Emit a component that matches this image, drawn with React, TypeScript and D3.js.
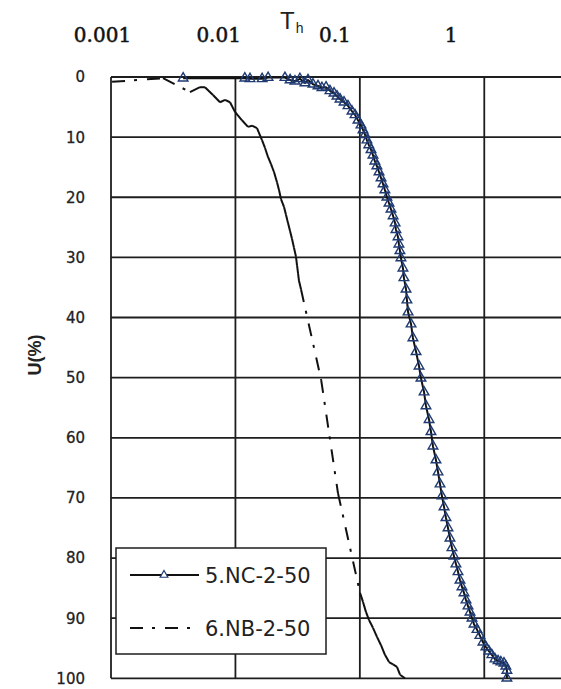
import React from "react";
import * as d3 from "d3";

// Th vs U(%) readings, [Th, U]
const nc2_50: [number, number][] = [
  [0.0038, 0.2], [0.0119, 0.2], [0.0131, 0.3], [0.0164, 0.3], [0.0183, 0.1], [0.025, 0.1],
  [0.0275, 0.5], [0.0301, 0.7], [0.033, 0.3], [0.0362, 1.0], [0.0383, 0.5], [0.042, 1.2],
  [0.0461, 1.5], [0.0496, 1.8], [0.0535, 1.7], [0.0575, 2.3], [0.062, 2.7], [0.0655, 3.2],
  [0.0693, 3.7], [0.0746, 4.2], [0.0803, 4.8], [0.0865, 5.7], [0.0914, 6.3], [0.0966, 7.2],
  [0.1021, 8.0], [0.106, 8.8], [0.11, 9.6], [0.114, 10.5], [0.118, 11.3], [0.123, 12.1],
  [0.1275, 13.0], [0.132, 14.0], [0.137, 14.8], [0.1425, 15.8], [0.148, 16.8], [0.1535, 17.8],
  [0.159, 18.8], [0.165, 20.0], [0.1715, 21.0], [0.178, 22.0], [0.185, 23.1], [0.192, 24.3],
  [0.195, 25.4], [0.2026, 26.6], [0.206, 27.8], [0.21, 28.9], [0.214, 30.1], [0.222, 31.8],
  [0.226, 33.4], [0.235, 35.3], [0.239, 37.1], [0.244, 39.1], [0.258, 41.1], [0.267, 43.4],
  [0.283, 45.7], [0.299, 48.1], [0.31, 50.1], [0.328, 52.4], [0.34, 54.7], [0.36, 57.0],
  [0.373, 59.0], [0.387, 61.4], [0.409, 63.7], [0.425, 65.7], [0.441, 67.7], [0.457, 69.7],
  [0.475, 71.5], [0.492, 73.3], [0.511, 75.0], [0.53, 76.7], [0.55, 78.3], [0.571, 79.7],
  [0.592, 81.0], [0.615, 82.3], [0.638, 83.7], [0.662, 84.8], [0.687, 85.8], [0.713, 87.0],
  [0.74, 88.0], [0.768, 89.0], [0.797, 90.0], [0.827, 91.0], [0.874, 91.9], [0.922, 92.9],
  [0.976, 94.0], [1.03, 94.8], [1.09, 95.5], [1.15, 96.1], [1.22, 96.8], [1.29, 97.1],
  [1.36, 97.3], [1.44, 97.5], [1.49, 98.0], [1.52, 98.7], [1.52, 100],
];

const nb2_50: [number, number][] = [
  [0.00102, 0.8], [0.00262, 0.2], [0.00431, 2.5], [0.00519, 1.7], [0.00569, 1.7], [0.0066, 3.0],
  [0.00752, 4.2], [0.00825, 3.8], [0.00905, 4.2], [0.00992, 5.8], [0.01129, 7.2], [0.01262, 8.3],
  [0.01359, 8.1], [0.01491, 8.5], [0.01635, 10.5], [0.01729, 11.8], [0.01827, 13.3], [0.01932, 14.5],
  [0.02042, 15.8], [0.02158, 17.5], [0.0224, 18.8], [0.02324, 20.3], [0.02457, 21.6], [0.02549, 22.9],
  [0.02646, 24.3], [0.02746, 25.6], [0.02849, 26.9], [0.02956, 28.4], [0.03068, 29.9], [0.03125, 31.3],
  [0.03184, 32.6], [0.03243, 33.9], [0.03365, 35.3], [0.0489, 50.4], [0.0667, 69.2], [0.1003, 85.8],
  [0.106, 87.3], [0.1121, 89.0], [0.1184, 90.3], [0.1275, 91.6], [0.1373, 93.1], [0.1479, 94.5],
  [0.1592, 96.1], [0.1715, 97.3], [0.1847, 97.7], [0.1988, 98.1], [0.2102, 99.4], [0.2306, 100],
];

const thTicks = [0.001, 0.01, 0.1, 1];
const thTickLabels = ["0.001", "0.01", "0.1", "1"];
const uTicks = [0, 10, 20, 30, 40, 50, 60, 70, 80, 90, 100];
const seriesNames = ["5.NC-2-50", "6.NB-2-50"];

const W = 561;
const H = 689;
const GRID = "#1e1e1e";
const MARKER = "#1f3a72";
const DASHDOT = "13,9,3,10";

export default function App() {
  const x = d3.scaleLog().domain([0.001, 10]).range([111, 608.7]);
  const y = d3.scaleLinear().domain([0, 100]).range([77, 678.3]);
  // tick labels on the original sit a little left of their gridlines
  const labelX = d3.scaleLog().domain([0.001, 1]).range([102.5, 451]);

  const line = d3.line<[number, number]>().x(d => x(d[0])).y(d => y(d[1]));
  const tri = d3.symbol().type(d3.symbolTriangle).size(40)();
  const triSmall = d3.symbol().type(d3.symbolTriangle).size(26)();

  // dash pattern restarts at every segment, so dense stretches look solid
  const nbSegments = d3.pairs(nb2_50);

  return (
    <svg width={W} height={H} style={{ position: "absolute", left: 0, top: 0, background: "#fff" }}>
      <rect width={W} height={H} fill="#fff" />

      {/* gridlines */}
      {uTicks.map(u => (
        <line key={"h" + u} x1={x(0.001)} x2={x(10)} y1={y(u)} y2={y(u)} stroke={GRID} strokeWidth={1.8} />
      ))}
      {[0.001, ...thTicks.slice(1), 10].map(t => (
        <line key={"v" + t} x1={x(t)} x2={x(t)} y1={y(0)} y2={y(100)} stroke={GRID} strokeWidth={1.8} />
      ))}

      {/* 6.NB-2-50 */}
      {nbSegments.map(([a, b], i) => (
        <path key={"nb" + i} d={line([a, b]) || ""} fill="none" stroke="#111" strokeWidth={2}
          strokeDasharray={DASHDOT} />
      ))}

      {/* 5.NC-2-50 */}
      <path d={line(nc2_50) || ""} fill="none" stroke="#111" strokeWidth={2} strokeLinejoin="round" />
      {nc2_50.map((d, i) => (
        <path key={"nc" + i} d={tri || ""} transform={`translate(${x(d[0])},${y(d[1])})`}
          fill="none" stroke={MARKER} strokeWidth={1.4} />
      ))}

      {/* legend */}
      <g>
        <rect x={116} y={548} width={210} height={106} fill="#fff" stroke={GRID} strokeWidth={1.5} />
        <line x1={130} x2={199} y1={575} y2={575} stroke="#111" strokeWidth={2} />
        <path d={triSmall || ""} transform="translate(164,575)" fill="#fff" stroke={MARKER} strokeWidth={1.2} />
        <text x={205} y={582.5} fontFamily="DejaVu Sans" fontSize={21} fill="#222">{seriesNames[0]}</text>
        <line x1={130} x2={199} y1={628} y2={628} stroke="#111" strokeWidth={2} strokeDasharray={DASHDOT} />
        <text x={205} y={635.5} fontFamily="DejaVu Sans" fontSize={21} fill="#222">{seriesNames[1]}</text>
      </g>

      {/* top axis labels */}
      {thTicks.map((t, i) => (
        <text key={"xt" + t} x={labelX(t)} y={42} textAnchor="middle" fontFamily="DejaVu Serif"
          fontSize={20} fill="#111" stroke="#111" strokeWidth={0.5}>{thTickLabels[i]}</text>
      ))}
      <text x={280} y={29} fontFamily="Liberation Sans" fontSize={24} fill="#222">
        T<tspan dx={1} dy={4} fontSize={14}>h</tspan>
      </text>

      {/* left axis labels */}
      {uTicks.map(u => (
        <text key={"yt" + u} x={85} y={y(u)} dy="0.36em" textAnchor="end" fontFamily="DejaVu Sans"
          fontSize={15} fill="#222" stroke="#222" strokeWidth={0.3}>{u}</text>
      ))}
      <text transform="translate(35,355) rotate(-90)" textAnchor="middle" dy="0.35em"
        fontFamily="Liberation Sans" fontWeight="bold" fontSize={18} fill="#222">U(%)</text>
    </svg>
  );
}
